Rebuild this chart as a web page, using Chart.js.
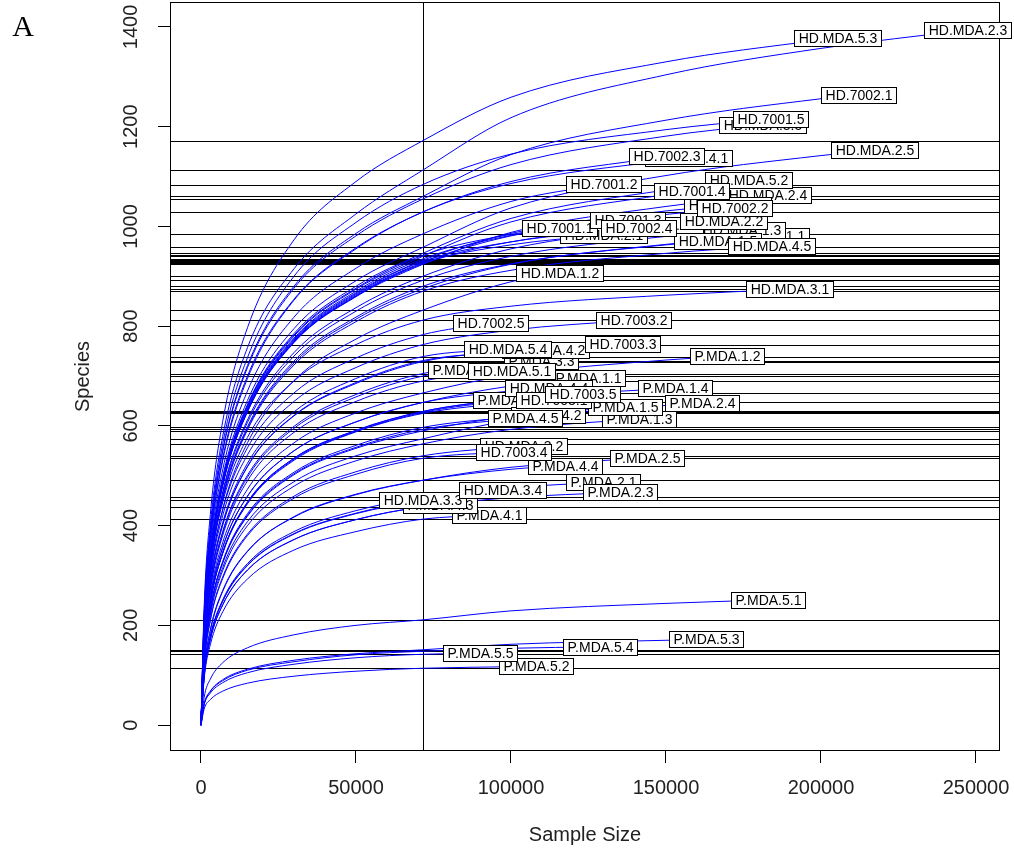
<!DOCTYPE html>
<html><head><meta charset="utf-8">
<style>html,body{margin:0;padding:0;background:#fff;} canvas{display:block;}</style>
<script src="https://cdn.jsdelivr.net/npm/chart.js@4.4.0/dist/chart.umd.min.js"></script>
</head><body>
<canvas id="c" width="1014" height="848" style="width:1014px;height:848px"></canvas>
<script>
const sampleNames = [
 'P.MDA.1.1','P.MDA.1.2','P.MDA.1.3','P.MDA.1.4','P.MDA.1.5',
 'P.MDA.2.1','P.MDA.2.3','P.MDA.2.4','P.MDA.2.5',
 'P.MDA.3.1','P.MDA.3.2','P.MDA.3.3',
 'P.MDA.4.1','P.MDA.4.2','P.MDA.4.3','P.MDA.4.4','P.MDA.4.5',
 'P.MDA.5.1','P.MDA.5.2','P.MDA.5.3','P.MDA.5.4','P.MDA.5.5',
 'HD.MDA.1.1','HD.MDA.1.2','HD.MDA.1.3','HD.MDA.1.4','HD.MDA.1.5',
 'HD.MDA.2.1','HD.MDA.2.2','HD.MDA.2.3','HD.MDA.2.4','HD.MDA.2.5',
 'HD.MDA.3.1','HD.MDA.3.2','HD.MDA.3.3','HD.MDA.3.4','HD.MDA.3.5',
 'HD.MDA.4.1','HD.MDA.4.2','HD.MDA.4.4','HD.MDA.4.5',
 'HD.MDA.5.1','HD.MDA.5.2','HD.MDA.5.3','HD.MDA.5.4','HD.MDA.5.5',
 'HD.7001.1','HD.7001.2','HD.7001.3','HD.7001.4','HD.7001.5',
 'HD.7002.1','HD.7002.2','HD.7002.3','HD.7002.4','HD.7002.5',
 'HD.7003.1','HD.7003.2','HD.7003.3','HD.7003.4','HD.7003.5'
];
const sampleSizes = [
 124800,169700,141300,152900,136800,
 129700,135200,161600,143900,
 99700,85200,109700,
 92900,112000,77100,117400,104500,
 182900,108100,162900,128700,90000,
 182000,115800,174200,148000,166500,
 130000,168700,247400,182900,217100,
 190000,103900,71600,97100,181000,
 157100,111000,112000,183900,
 100300,176500,205200,99000,170000,
 115800,130000,137700,158100,183600,
 212000,172000,150300,141000,93500,
 113600,139400,136100,100700,123200
];
const finalSpecies = [
 696,740,614,676,638,
 487,467,646,536,
 652,712,730,
 421,622,441,520,616,
 251,118,172,157,144,
 981,907,993,1003,971,
 983,1011,1394,1063,1153,
 874,560,451,471,1204,
 1137,752,676,961,
 710,1093,1378,754,1043,
 997,1085,1013,1071,1216,
 1264,1037,1141,997,806,
 652,812,764,548,664
];
const rarefySize = 71600;
const rarefiedSpecies = [
 647,666,564,629,590,
 457,438,574,491,
 627,700,705,
 413,597,438,491,593,
 211,114,151,148,142,
 875,832,892,925,880,
 926,900,1113,924,958,
 812,540,451,452,1055,
 1029,731,647,870,
 690,946,1172,739,932,
 942,985,935,940,1084,
 1060,928,1029,930,783,
 625,763,729,535,629
];
const earlySizes = [0, 1000, 3000, 7000, 15000, 30000, 50000];
const earlySpecies = [
 [0,142,252,356,459,550,608],[0,147,260,366,473,566,626],[0,124,220,310,400,479,530],[0,138,245,346,447,535,591],[0,130,230,325,419,502,555],
 [0,101,178,251,324,388,430],[0,96,171,241,311,372,412],[0,126,224,316,408,488,540],[0,108,191,270,349,417,462],
 [0,138,245,345,445,533,589],[0,154,273,385,497,595,658],[0,155,275,388,501,599,663],
 [0,91,161,227,293,351,388],[0,131,233,328,424,507,561],[0,96,171,241,311,372,412],[0,105,188,268,348,418,463],[0,130,231,326,421,504,557],
 [0,55,92,125,155,181,200],[0,32,51,68,84,98,108],[0,42,68,91,112,130,143],[0,41,67,89,110,127,141],[0,40,64,85,105,122,135],
 [0,175,315,455,595,726,814],[0,166,300,433,566,691,774],[0,178,321,464,607,740,830],[0,185,333,481,629,768,860],[0,176,317,458,598,730,818],
 [0,185,333,482,630,769,861],[0,180,324,468,612,747,837],[0,223,401,579,757,915,1025],[0,185,333,480,628,767,859],[0,192,345,498,651,795,891],
 [0,179,317,447,577,690,763],[0,119,211,297,383,459,508],[0,99,176,248,320,383,424],[0,99,176,249,321,384,425],[0,211,380,549,717,876,981],
 [0,200,365,530,695,852,955],[0,161,285,402,519,621,687],[0,142,252,356,459,550,608],[0,174,313,452,592,722,809],
 [0,152,269,380,490,587,649],[0,189,341,492,643,785,880],[0,234,422,609,797,973,1090],[0,163,288,406,525,628,695],[0,186,336,485,634,774,867],
 [0,188,339,490,641,782,876],[0,197,355,512,670,818,916],[0,187,337,486,636,776,870],[0,188,338,489,639,780,874],[0,217,390,564,737,900,1008],
 [0,212,382,551,721,880,986],[0,186,334,483,631,770,863],[0,206,370,535,700,854,957],[0,186,335,484,632,772,865],[0,172,305,431,556,666,736],
 [0,138,244,344,444,531,588],[0,168,298,420,542,649,717],[0,160,284,401,518,620,685],[0,118,209,294,380,455,503],[0,138,245,346,447,535,591]
];
const tailSizes = [100000, 150000, 200000];
const tailSpecies = [
 [680],[702,732],[593],[654],[619],
 [476],[456],[611,641],[517],
 [],[],[726],
 [],[617],[],[513],[],
 [229,244],[117],[162,170],[154],[],
 [924,964],[889],[940,980],[969],[925,963],
 [963],[955,999],[1218,1304,1357],[988,1040],[1037,1102,1142],
 [840,862],[],[],[],[1124,1181],
 [1086,1132],[748],[670],[912,946],
 [],[1016,1073],[1259,1330,1374],[],[986,1031],
 [984],[1050],[982],[1009,1064],[1145,1194],
 [1144,1213,1256],[981,1024],[1090],[969],[],
 [646],[792],[750],[],[653]
];
const xTicks = [0, 50000, 100000, 150000, 200000, 250000];
const yTicks = [0, 200, 400, 600, 800, 1000, 1200, 1400];

const FONT = '"Liberation Sans", Arial, Helvetica, sans-serif';

const datasets = sampleNames.map((name, i) => {
  const pts = earlySizes.map((s, k) => ({x: s, y: earlySpecies[i][k]}));
  pts.push({x: rarefySize, y: rarefiedSpecies[i]});
  tailSpecies[i].forEach((v, k) => pts.push({x: tailSizes[k], y: v}));
  if (sampleSizes[i] > rarefySize) pts.push({x: sampleSizes[i], y: finalSpecies[i]});
  return {label: name, data: pts, borderColor: '#0000ff', borderWidth: 1,
          pointRadius: 0, fill: false, cubicInterpolationMode: 'monotone'};
});

const rarePlugin = {
  id: 'rare',
  beforeDatasetsDraw(chart) {
    const {ctx, chartArea: a, scales: {x, y}} = chart;
    ctx.save();
    ctx.strokeStyle = '#000'; ctx.lineWidth = 1;
    ctx.beginPath();
    rarefiedSpecies.forEach(v => {
      const py = Math.round(y.getPixelForValue(v)) + 0.5;
      ctx.moveTo(a.left, py); ctx.lineTo(a.right, py);
    });
    const vx = Math.round(x.getPixelForValue(rarefySize)) + 0.5;
    ctx.moveTo(vx, a.top); ctx.lineTo(vx, a.bottom);
    ctx.stroke();
    ctx.restore();
  },
  afterDatasetsDraw(chart) {
    const {ctx, chartArea: a, scales: {x, y}} = chart;
    ctx.save();
    ctx.strokeStyle = '#000'; ctx.lineWidth = 1;
    ctx.strokeRect(a.left + 0.5, a.top + 0.5, a.right - a.left - 1, a.bottom - a.top - 1);
    ctx.fillStyle = '#222';
    ctx.font = '20px ' + FONT;
    ctx.textAlign = 'center'; ctx.textBaseline = 'middle';
    yTicks.forEach(v => {
      const py = y.getPixelForValue(v);
      ctx.save(); ctx.translate(131, py); ctx.rotate(-Math.PI / 2);
      ctx.fillText(String(v), 0, 0); ctx.restore();
    });
    ctx.fillStyle = '#000';
    ctx.font = '30px "Liberation Serif", "Times New Roman", serif';
    ctx.fillText('A', 23, 28);
    ctx.font = '14px ' + FONT;
    sampleNames.forEach((name, i) => {
      const px = x.getPixelForValue(sampleSizes[i]);
      const py = y.getPixelForValue(finalSpecies[i]);
      const w = Math.round(ctx.measureText(name).width + 8), h = 16;
      const bx = Math.round(px - w / 2) + 0.5, by = Math.round(py - h / 2) + 0.5;
      ctx.fillStyle = '#fff'; ctx.fillRect(bx, by, w, h);
      ctx.strokeRect(bx, by, w, h);
      ctx.fillStyle = '#000';
      ctx.fillText(name, bx + w / 2, by + h / 2 + 1);
    });
    ctx.restore();
  }
};

new Chart(document.getElementById('c'), {
  type: 'line',
  data: {datasets},
  options: {
    responsive: false, animation: false, events: [],
    layout: {padding: {top: 2, right: 14, bottom: 0, left: 0}},
    plugins: {legend: {display: false}, tooltip: {enabled: false}},
    scales: {
      x: {
        type: 'linear', min: -10000, max: 257742,
        afterBuildTicks: s => { s.ticks = xTicks.map(v => ({value: v})); },
        afterFit: s => { s.height = 97; s.paddingLeft = 0; s.paddingRight = 0; },
        grid: {drawOnChartArea: false, drawTicks: true, tickLength: 12, color: '#000', lineWidth: 1},
        border: {display: false},
        ticks: {font: {family: FONT, size: 20}, color: '#222', padding: 13, maxRotation: 0, minRotation: 0,
                callback: v => String(v)},
        title: {display: true, text: 'Sample Size', font: {family: FONT, size: 20}, color: '#222',
                padding: {top: 0, bottom: 1}}
      },
      y: {
        type: 'linear', min: -52, max: 1450,
        afterBuildTicks: s => { s.ticks = yTicks.map(v => ({value: v})); },
        afterFit: s => { s.width = 170; s.paddingTop = 0; s.paddingBottom = 0; },
        grid: {drawOnChartArea: false, drawTicks: true, tickLength: 12, color: '#000', lineWidth: 1},
        border: {display: false},
        ticks: {display: false},
        title: {display: true, text: 'Species', font: {family: FONT, size: 20}, color: '#222',
                padding: {top: 71, bottom: 0}}
      }
    }
  },
  plugins: [rarePlugin]
});
</script>
</body></html>
